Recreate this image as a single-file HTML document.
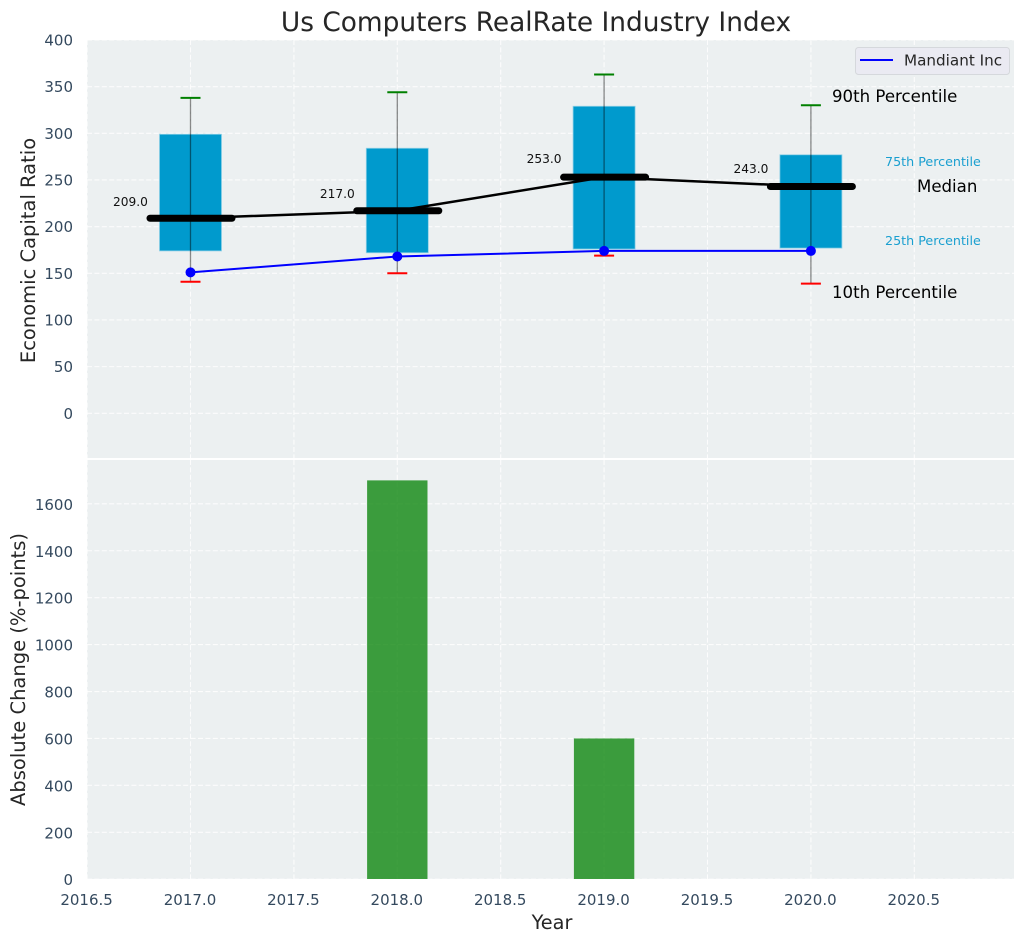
<!DOCTYPE html>
<html>
<head>
<meta charset="utf-8">
<title>Us Computers RealRate Industry Index</title>
<style>
html,body{margin:0;padding:0;background:#fff;}
svg{display:block;font-family:"DejaVu Sans","Liberation Sans",sans-serif;}
</style>
</head>
<body>
<svg id="chart" xmlns="http://www.w3.org/2000/svg" width="1026" height="942" viewBox="0 0 1026 942"></svg>
<script>
const years = [2017, 2018, 2019, 2020];
const p90 = [338, 344, 363, 330];
const p75 = [299, 284, 329, 277];
const medians = [209, 217, 253, 243];
const p25 = [174, 172, 176, 177];
const p10 = [141, 150, 169, 139];
const companyValues = [151, 168, 174, 174];
const changeYears = [2018, 2019];
const changeValues = [1700, 600];
const xTickLabels = [2016.5, 2017, 2017.5, 2018, 2018.5, 2019, 2019.5, 2020, 2020.5];
const yTicksTop = [0, 50, 100, 150, 200, 250, 300, 350, 400];
const yTicksBottom = [0, 200, 400, 600, 800, 1000, 1200, 1400, 1600];

const svg = document.getElementById('chart');
const NS = 'http://www.w3.org/2000/svg';
const plotLeft = 87, plotRight = 1014;
const topAxisTop = 40, topAxisBottom = 458;
const bottomAxisTop = 460, bottomAxisBottom = 879;

function xScale(v) { return 190.5 + (v - 2017) * 206.8; }
function yTop(v) { return 413.3 - v * 0.9333; }
function yBottom(v) { return 879.2 - v * 0.2346; }

function make(tag, attrs, text) {
  const el = document.createElementNS(NS, tag);
  for (const k in attrs) el.setAttribute(k, attrs[k]);
  if (text !== undefined) el.textContent = text;
  svg.appendChild(el);
  return el;
}

/* axes backgrounds */
let el = make('rect', {x: plotLeft, y: topAxisTop, width: plotRight - plotLeft, height: topAxisBottom - topAxisTop, fill: '#ecf0f1'});


el = make('rect', {x: plotLeft, y: bottomAxisTop, width: plotRight - plotLeft, height: bottomAxisBottom - bottomAxisTop, fill: '#ecf0f1'});



const gridStyle = {stroke: '#ffffff', 'stroke-width': 1.1, 'stroke-dasharray': '5 2.4', opacity: 0.85};

/* vertical grid */
xTickLabels.forEach(function (t) {
  const x = xScale(t);
  el = make('line', Object.assign({x1: x, x2: x, y1: topAxisTop, y2: topAxisBottom}, gridStyle));
  
  
  el = make('line', Object.assign({x1: x, x2: x, y1: bottomAxisTop, y2: bottomAxisBottom}, gridStyle));
  
  
  el = make('text', {x: x - 0.5, y: 905, 'text-anchor': 'middle', 'font-size': 15, fill: '#34495e'}, t.toFixed(1));
  
  
});

/* horizontal grid, top */
yTicksTop.forEach(function (t) {
  const y = yTop(t);
  el = make('line', Object.assign({x1: plotLeft, x2: plotRight, y1: y, y2: y}, gridStyle));
  
  
  el = make('text', {x: 73, y: y + 5.5, 'text-anchor': 'end', 'font-size': 15, fill: '#34495e'}, String(t));
  
  
});

/* horizontal grid, bottom */
yTicksBottom.forEach(function (t) {
  const y = yBottom(t);
  el = make('line', Object.assign({x1: plotLeft, x2: plotRight, y1: y, y2: y}, gridStyle));
  
  
  el = make('text', {x: 73, y: y + 6, 'text-anchor': 'end', 'font-size': 15, fill: '#34495e'}, String(t));
  
  
});

/* boxes */
years.forEach(function (yr, i) {
  const x = xScale(yr);
  const half = 0.15 * 206.8;
  el = make('rect', {x: x - half, y: yTop(p75[i]), width: half * 2, height: yTop(p25[i]) - yTop(p75[i]), fill: '#009acd', stroke: '#8fd0e6', 'stroke-width': 0.8});
  
  
});

/* median connecting line */
el = make('polyline', {points: years.map(function (yr, i) { return xScale(yr) + ',' + yTop(medians[i]); }).join(' '), fill: 'none', stroke: '#000', 'stroke-width': 2.5});



/* whiskers, caps, median bars, value labels */
years.forEach(function (yr, i) {
  const x = xScale(yr);
  el = make('line', {x1: x, x2: x, y1: yTop(p90[i]), y2: yTop(p10[i]), stroke: '#000', 'stroke-opacity': 0.45, 'stroke-width': 1.3});
  
  
  el = make('line', {x1: x - 10, x2: x + 10, y1: yTop(p90[i]), y2: yTop(p90[i]), stroke: '#008000', 'stroke-width': 2});
  
  
  el = make('line', {x1: x - 10, x2: x + 10, y1: yTop(p10[i]), y2: yTop(p10[i]), stroke: '#ff0000', 'stroke-width': 2});
  
  
  el = make('line', {x1: x - 40.5, x2: x + 41.5, y1: yTop(medians[i]), y2: yTop(medians[i]), stroke: '#000', 'stroke-width': 7, 'stroke-linecap': 'round'});
  
  
  el = make('text', {x: x - 60, y: yTop(medians[i]) - (8 + medians[i] * 0.042) + 4.5, 'text-anchor': 'middle', 'font-size': 12.2, fill: '#111'}, medians[i].toFixed(1));
  
  
});

/* company series */
el = make('polyline', {points: years.map(function (yr, i) { return xScale(yr) + ',' + yTop(companyValues[i]); }).join(' '), fill: 'none', stroke: '#0000ff', 'stroke-width': 2});


years.forEach(function (yr, i) {
  el = make('circle', {cx: xScale(yr), cy: yTop(companyValues[i]), r: 5, fill: '#0000ff'});
  
  
});

/* bars */
changeYears.forEach(function (yr, i) {
  const x = xScale(yr);
  const half = 0.146 * 206.8;
  el = make('rect', {x: x - half, y: yBottom(changeValues[i]), width: half * 2, height: bottomAxisBottom - yBottom(changeValues[i]), fill: '#008000', 'fill-opacity': 0.75});
  
  
});
</script>
<script>
/* static labels and legend */
(function () {
  function t(name, attrs, text) {
    const e = document.createElementNS('http://www.w3.org/2000/svg', 'text');
    for (const k in attrs) e.setAttribute(k, attrs[k]);
    e.textContent = text;
    
    
    document.getElementById('chart').appendChild(e);
  }
  t('chart-title', {x: 536, y: 31, 'text-anchor': 'middle', 'font-size': 26.4, fill: '#262626'}, 'Us Computers RealRate Industry Index');
  t('top-y-axis-title', {x: 0, y: 0, transform: 'translate(35,250.5) rotate(-90)', 'text-anchor': 'middle', 'font-size': 19.5, fill: '#262626'}, 'Economic Capital Ratio');
  t('bottom-y-axis-title', {x: 0, y: 0, transform: 'translate(25,669.5) rotate(-90)', 'text-anchor': 'middle', 'font-size': 19.5, fill: '#262626'}, 'Absolute Change (%-points)');
  t('x-axis-title', {x: 552, y: 929, 'text-anchor': 'middle', 'font-size': 19.3, fill: '#262626'}, 'Year');
  t('p90-annotation', {x: 832, y: 102, 'font-size': 16.6, fill: '#000'}, '90th Percentile');
  t('p10-annotation', {x: 832, y: 298, 'font-size': 16.6, fill: '#000'}, '10th Percentile');
  t('median-annotation', {x: 917, y: 192, 'font-size': 16.6, fill: '#000'}, 'Median');
  t('p75-annotation', {x: 885, y: 166, 'font-size': 12.7, fill: '#1a9fd0'}, '75th Percentile');
  t('p25-annotation', {x: 885, y: 245, 'font-size': 12.7, fill: '#1a9fd0'}, '25th Percentile');

  const s = document.getElementById('chart');
  const r = document.createElementNS('http://www.w3.org/2000/svg', 'rect');
  r.setAttribute('x', 855.5); r.setAttribute('y', 47.5); r.setAttribute('width', 154); r.setAttribute('height', 27);
  r.setAttribute('rx', 3); r.setAttribute('fill', '#eaeaf2'); r.setAttribute('stroke', '#d5d8dc');
  
  
  s.appendChild(r);
  const l = document.createElementNS('http://www.w3.org/2000/svg', 'line');
  l.setAttribute('x1', 860); l.setAttribute('x2', 893); l.setAttribute('y1', 60); l.setAttribute('y2', 60);
  l.setAttribute('stroke', '#0000ff'); l.setAttribute('stroke-width', 2);
  
  
  s.appendChild(l);
  t('legend-label', {x: 904, y: 65.5, 'font-size': 15.2, fill: '#262626'}, 'Mandiant Inc');
})();
</script>
</body>
</html>
